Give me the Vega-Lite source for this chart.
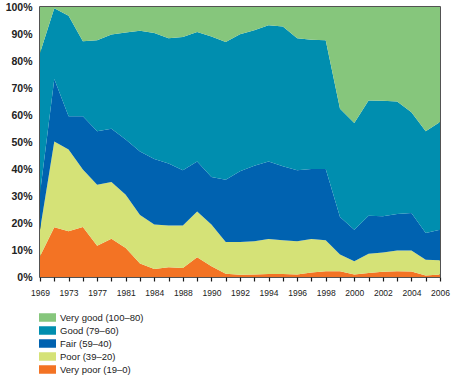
{
  "$schema": "https://vega.github.io/schema/vega-lite/v6.json",
  "autosize": {"type": "none"},
  "width": 400,
  "height": 270,
  "padding": {"left": 40, "top": 7, "right": 24, "bottom": 104},
  "background": "white",
  "config": {
    "view": {"stroke": "#1a1a1a", "strokeWidth": 1.5},
    "font": "Liberation Sans"
  },
  "data": {
    "values": [
      {"year": "1969", "Very poor (19–0)": 7.7, "Poor (39–20)": 9.8, "Fair (59–40)": 13.5, "Good (79–60)": 52.0, "Very good (100–80)": 17.0},
      {"year": "1971", "Very poor (19–0)": 18.4, "Poor (39–20)": 31.8, "Fair (59–40)": 23.1, "Good (79–60)": 26.2, "Very good (100–80)": 0.5},
      {"year": "1973", "Very poor (19–0)": 16.9, "Poor (39–20)": 30.3, "Fair (59–40)": 12.3, "Good (79–60)": 37.3, "Very good (100–80)": 3.2},
      {"year": "1975", "Very poor (19–0)": 18.5, "Poor (39–20)": 21.3, "Fair (59–40)": 19.7, "Good (79–60)": 27.8, "Very good (100–80)": 12.7},
      {"year": "1977", "Very poor (19–0)": 11.6, "Poor (39–20)": 22.6, "Fair (59–40)": 19.8, "Good (79–60)": 33.7, "Very good (100–80)": 12.3},
      {"year": "1979", "Very poor (19–0)": 14.2, "Poor (39–20)": 21.0, "Fair (59–40)": 19.7, "Good (79–60)": 34.9, "Very good (100–80)": 10.2},
      {"year": "1981", "Very poor (19–0)": 10.7, "Poor (39–20)": 19.8, "Fair (59–40)": 20.4, "Good (79–60)": 39.7, "Very good (100–80)": 9.4},
      {"year": "1982", "Very poor (19–0)": 5.0, "Poor (39–20)": 18.0, "Fair (59–40)": 23.5, "Good (79–60)": 44.7, "Very good (100–80)": 8.8},
      {"year": "1984", "Very poor (19–0)": 3.0, "Poor (39–20)": 16.4, "Fair (59–40)": 24.3, "Good (79–60)": 46.7, "Very good (100–80)": 9.6},
      {"year": "1986", "Very poor (19–0)": 3.6, "Poor (39–20)": 15.5, "Fair (59–40)": 22.9, "Good (79–60)": 46.4, "Very good (100–80)": 11.6},
      {"year": "1988", "Very poor (19–0)": 3.3, "Poor (39–20)": 15.8, "Fair (59–40)": 20.4, "Good (79–60)": 49.4, "Very good (100–80)": 11.1},
      {"year": "1989", "Very poor (19–0)": 7.3, "Poor (39–20)": 17.0, "Fair (59–40)": 18.5, "Good (79–60)": 47.9, "Very good (100–80)": 9.3},
      {"year": "1990", "Very poor (19–0)": 4.0, "Poor (39–20)": 15.4, "Fair (59–40)": 17.6, "Good (79–60)": 52.1, "Very good (100–80)": 10.9},
      {"year": "1991", "Very poor (19–0)": 1.2, "Poor (39–20)": 11.8, "Fair (59–40)": 23.0, "Good (79–60)": 51.0, "Very good (100–80)": 13.0},
      {"year": "1992", "Very poor (19–0)": 0.8, "Poor (39–20)": 12.2, "Fair (59–40)": 26.2, "Good (79–60)": 50.7, "Very good (100–80)": 10.1},
      {"year": "1993", "Very poor (19–0)": 0.9, "Poor (39–20)": 12.3, "Fair (59–40)": 28.0, "Good (79–60)": 50.2, "Very good (100–80)": 8.6},
      {"year": "1994", "Very poor (19–0)": 1.1, "Poor (39–20)": 13.0, "Fair (59–40)": 28.7, "Good (79–60)": 50.4, "Very good (100–80)": 6.8},
      {"year": "1995", "Very poor (19–0)": 1.1, "Poor (39–20)": 12.5, "Fair (59–40)": 27.4, "Good (79–60)": 51.8, "Very good (100–80)": 7.2},
      {"year": "1996", "Very poor (19–0)": 0.9, "Poor (39–20)": 12.3, "Fair (59–40)": 26.3, "Good (79–60)": 48.9, "Very good (100–80)": 11.6},
      {"year": "1997", "Very poor (19–0)": 1.7, "Poor (39–20)": 12.4, "Fair (59–40)": 25.9, "Good (79–60)": 47.9, "Very good (100–80)": 12.1},
      {"year": "1998", "Very poor (19–0)": 2.1, "Poor (39–20)": 11.5, "Fair (59–40)": 26.4, "Good (79–60)": 47.7, "Very good (100–80)": 12.3},
      {"year": "1999", "Very poor (19–0)": 2.1, "Poor (39–20)": 6.2, "Fair (59–40)": 13.9, "Good (79–60)": 40.1, "Very good (100–80)": 37.7},
      {"year": "2000", "Very poor (19–0)": 0.9, "Poor (39–20)": 4.9, "Fair (59–40)": 11.7, "Good (79–60)": 39.5, "Very good (100–80)": 43.0},
      {"year": "2001", "Very poor (19–0)": 1.5, "Poor (39–20)": 7.1, "Fair (59–40)": 14.1, "Good (79–60)": 42.7, "Very good (100–80)": 34.6},
      {"year": "2002", "Very poor (19–0)": 1.9, "Poor (39–20)": 7.2, "Fair (59–40)": 13.4, "Good (79–60)": 42.8, "Very good (100–80)": 34.7},
      {"year": "2003", "Very poor (19–0)": 2.1, "Poor (39–20)": 7.7, "Fair (59–40)": 13.5, "Good (79–60)": 41.7, "Very good (100–80)": 35.0},
      {"year": "2004", "Very poor (19–0)": 2.0, "Poor (39–20)": 7.8, "Fair (59–40)": 13.9, "Good (79–60)": 37.3, "Very good (100–80)": 39.0},
      {"year": "2005", "Very poor (19–0)": 0.6, "Poor (39–20)": 5.8, "Fair (59–40)": 9.9, "Good (79–60)": 37.7, "Very good (100–80)": 46.0},
      {"year": "2006", "Very poor (19–0)": 0.9, "Poor (39–20)": 5.3, "Fair (59–40)": 11.3, "Good (79–60)": 39.9, "Very good (100–80)": 42.6}
    ]
  },
  "transform": [
    {"fold": ["Very poor (19–0)", "Poor (39–20)", "Fair (59–40)", "Good (79–60)", "Very good (100–80)"], "as": ["cond", "pct"]},
    {"calculate": "indexof(['Very poor (19–0)', 'Poor (39–20)', 'Fair (59–40)', 'Good (79–60)', 'Very good (100–80)'], datum.cond)", "as": "rank"}
  ],
  "mark": {"type": "area", "interpolate": "linear"},
  "encoding": {
    "x": {
      "field": "year",
      "type": "ordinal",
      "scale": {"type": "point", "padding": 0},
      "axis": {
        "title": null,
        "labelAngle": 0,
        "domain": false,
        "grid": false,
        "ticks": true,
        "tickSize": 4,
        "tickColor": "#1a1a1a",
        "tickWidth": 1.2,
        "labelFontSize": 8.5,
        "labelColor": "#222",
        "labelPadding": 7,
        "labelOverlap": false,
        "labelExpr": "indexof(['1969','1973','1977','1981','1984','1988','1990','1992','1994','1996','1998','2000','2002','2004','2006'], datum.value) >= 0 ? datum.label : ''"
      }
    },
    "y": {
      "field": "pct",
      "type": "quantitative",
      "stack": "normalize",
      "scale": {"domain": [0, 1]},
      "axis": {
        "title": null,
        "values": [0, 0.1, 0.2, 0.3, 0.4, 0.5, 0.6, 0.7, 0.8, 0.9, 1],
        "format": ".0%",
        "domain": false,
        "ticks": false,
        "grid": false,
        "labelFontSize": 10.5,
        "labelFontWeight": "bold",
        "labelColor": "#222",
        "labelPadding": 8
      }
    },
    "color": {
      "field": "cond",
      "type": "nominal",
      "scale": {
        "domain": ["Very good (100–80)", "Good (79–60)", "Fair (59–40)", "Poor (39–20)", "Very poor (19–0)"],
        "range": ["#86c67c", "#008eaf", "#0062b0", "#d5e277", "#f37324"]
      },
      "legend": {
        "title": null,
        "orient": "none",
        "legendX": -1,
        "legendY": 302,
        "padding": 0,
        "symbolType": "M-1,-0.5H1V0.5H-1Z",
        "symbolSize": 289,
        "symbolStrokeWidth": 0,
        "symbolOpacity": 1,
        "labelFontSize": 9.5,
        "labelColor": "#222",
        "labelOffset": 4,
        "rowPadding": 0
      }
    },
    "order": {"field": "rank", "type": "quantitative", "sort": "ascending"}
  }
}
